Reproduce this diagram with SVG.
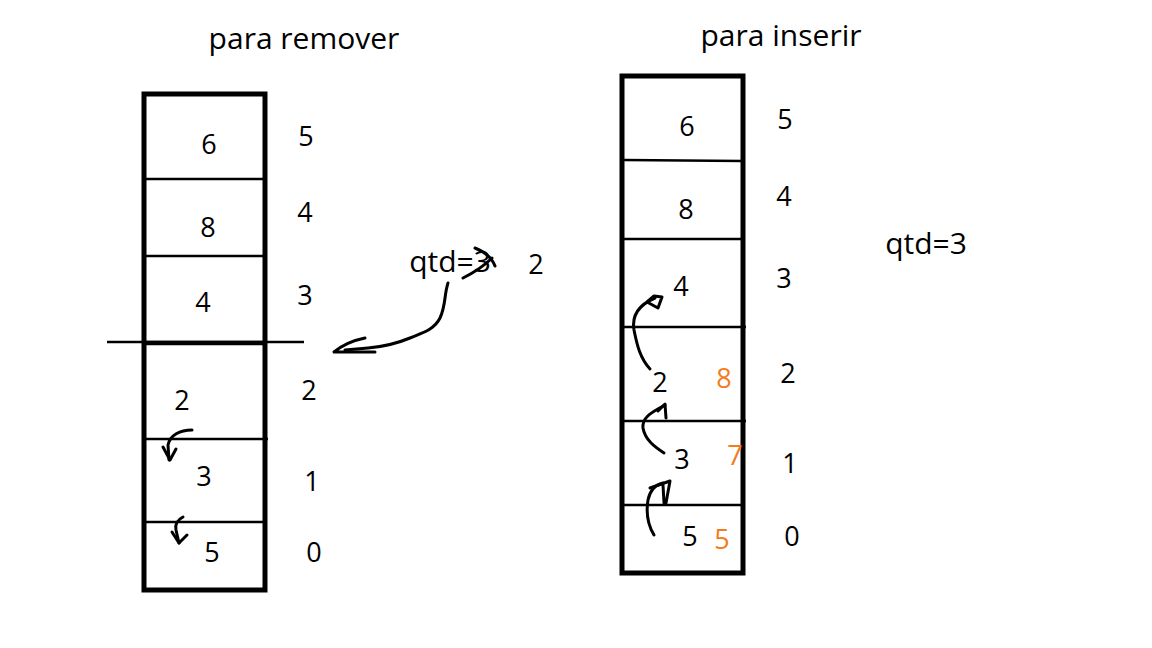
<svg xmlns="http://www.w3.org/2000/svg" width="1152" height="648" viewBox="0 0 1152 648">
<style>
text{font-family:"Open Sans","Noto Sans","Liberation Sans",sans-serif;font-size:27px;fill:#000;text-anchor:middle}
.t{font-size:30px}
.q{font-size:30px}
.o{fill:#f47c20}
.box{fill:#fff;stroke:#000;stroke-width:5}
.div{stroke:#000;stroke-width:2.5;fill:none}
.hand{stroke:#000;stroke-width:3;fill:none;stroke-linecap:round;stroke-linejoin:round}
</style>
<rect width="1152" height="648" fill="#fff"/>
<g id="title-remover"><text class="t" x="304" y="49">para remover</text></g>
<g id="title-inserir"><text class="t" x="781" y="46">para inserir</text></g>

<g id="stack-remover">
<rect class="box" x="144" y="94" width="121" height="496"/>
<line class="div" x1="146" y1="179" x2="265" y2="179"/>
<line class="div" x1="144" y1="256" x2="265" y2="256"/>
<line class="div" x1="107" y1="342" x2="304" y2="342"/>
<line x1="144" y1="343" x2="265" y2="343" stroke="#000" stroke-width="4.5"/>
<line class="div" x1="144" y1="439" x2="268" y2="439"/>
<line class="div" x1="144" y1="522" x2="265" y2="522"/>
<text x="209" y="154">6</text>
<text x="208" y="237">8</text>
<text x="203" y="312">4</text>
<text x="182" y="410">2</text>
<text x="204" y="486">3</text>
<text x="212" y="562">5</text>
</g>
<g id="index-remover">
<text x="306" y="146">5</text>
<text x="305" y="222">4</text>
<text x="305" y="305">3</text>
<text x="309" y="400">2</text>
<text x="312" y="491">1</text>
<text x="314" y="562">0</text>
</g>

<g id="stack-inserir">
<rect class="box" x="622" y="76" width="121" height="497"/>
<line class="div" x1="624" y1="160" x2="743" y2="161"/>
<line class="div" x1="622" y1="239" x2="743" y2="239"/>
<line class="div" x1="622" y1="327" x2="746" y2="327"/>
<line class="div" x1="622" y1="421" x2="746" y2="421"/>
<line class="div" x1="622" y1="505" x2="743" y2="505"/>
<text x="687" y="136">6</text>
<text x="686" y="219">8</text>
<text x="681" y="296">4</text>
<text x="660" y="392">2</text>
<text class="o" x="724" y="388">8</text>
<text x="682" y="469">3</text>
<text class="o" x="735" y="465">7</text>
<text x="690" y="546">5</text>
<text class="o" x="722" y="549">5</text>
</g>
<g id="index-inserir">
<text x="785" y="129">5</text>
<text x="784" y="206">4</text>
<text x="784" y="288">3</text>
<text x="788" y="383">2</text>
<text x="790" y="473">1</text>
<text x="792" y="546">0</text>
</g>

<g id="qtd-remover">
<text class="q" x="450" y="272">qtd=3</text>
<text x="536" y="274">2</text>
</g>
<g id="qtd-inserir"><text class="q" x="926" y="254">qtd=3</text></g>

<g id="connectors">
<path class="hand" d="M448 283 C444 295 446 305 440 318 C434 330 422 333 410 338 C398 343 380 347 368 348 L345 350"/>
<path class="hand" d="M365 338 C355 340 345 343 334 352 L375 352"/>
<path class="hand" d="M463 278 C475 272 485 265 492 258 M475 248 C485 252 492 258 495 266"/>
<path class="hand" d="M192 430 C180 430 170 435 168 445 L169 460"/>
<path class="hand" d="M163 447 L170 460 L176 449"/>
<path class="hand" d="M183 517 C177 520 175 525 176 530 L179 543"/>
<path class="hand" d="M172 532 L179 543 L187 535"/>
<path class="hand" d="M650 369 C640 358 637 345 634 330 C632 318 636 306 655 298"/>
<path class="hand" d="M647 302 L654 296 L662 297 L658 308 Z"/>
<path class="hand" d="M664 453 C655 447 645 440 643 428 C642 418 650 413 665 405"/>
<path class="hand" d="M658 411 L665 404 L666 418"/>
<path class="hand" d="M654 535 C648 525 646 512 648 500 C650 490 655 485 663 483"/>
<path class="hand" d="M650 488 L670 481 L666 503 L664 503 L663 485"/>
</g>
</svg>
